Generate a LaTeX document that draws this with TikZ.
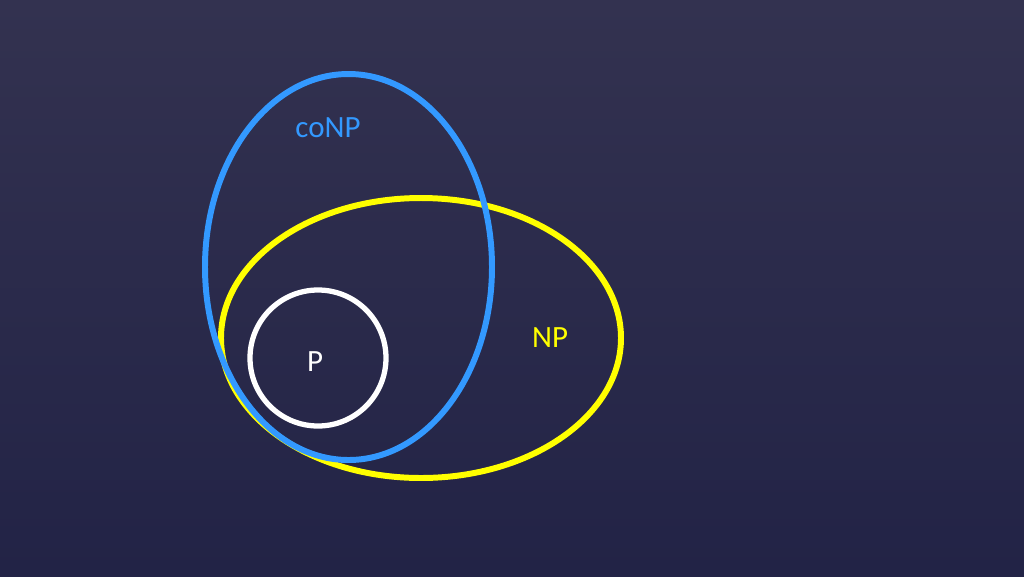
\documentclass[tikz,border=0pt]{standalone}
\usepackage[rgb]{xcolor}
\usepackage{fontspec}
\setmainfont{Carlito}
\definecolor{bgtop}{RGB}{51,50,80}
\definecolor{bgbot}{RGB}{34,35,70}
\definecolor{conpblue}{RGB}{51,153,255}
\definecolor{npyellow}{RGB}{255,255,0}
\tikzset{
  classline/.style={line width=1.7pt},
  classlabel/.style={font=\fontsize{8.8}{10}\selectfont, inner sep=0pt}
}
\begin{document}
\begin{tikzpicture}

% Background
\shade[top color=bgtop, bottom color=bgbot] (0,0) rectangle (10.24,5.76);
\useasboundingbox (0,0) rectangle (10.24,5.76);

% NP class
\draw[classline, npyellow] (4.21,2.38) ellipse [x radius=2.00, y radius=1.40];
\node[classlabel, text=npyellow] (np) at (5.50,2.38) {NP};

% coNP class
\draw[classline, conpblue] (3.485,3.09) ellipse [x radius=1.435, y radius=1.93];
\node[classlabel, text=conpblue] (conp) at (3.28,4.48) {coNP};

% P class
\draw[classline, white, line width=1.5pt] (3.18,2.18) circle [radius=0.68];
\node[classlabel, text=white] (p) at (3.15,2.14) {P};

\end{tikzpicture}
\end{document}
